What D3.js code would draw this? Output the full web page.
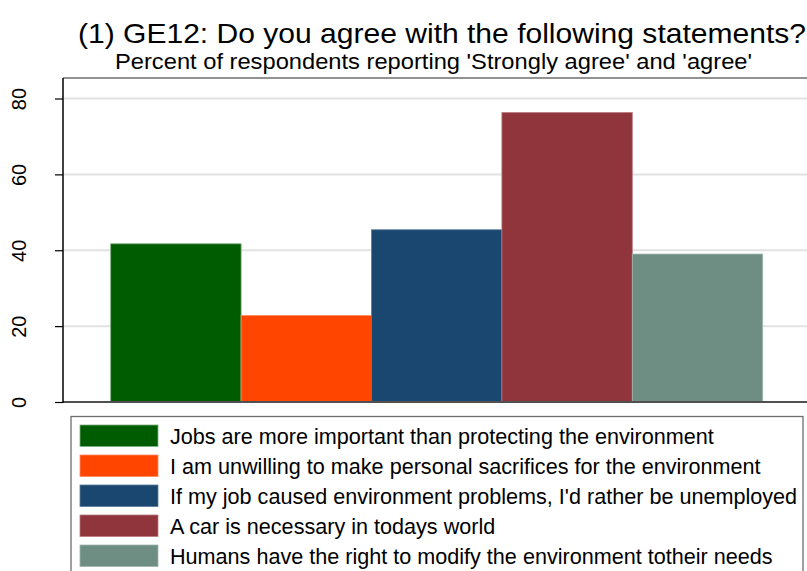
<!DOCTYPE html>
<html>
<head>
<meta charset="utf-8">
<script src="https://cdn.jsdelivr.net/npm/d3@7"></script>
<style>
  html, body { margin: 0; padding: 0; background: #fff; }
  svg { display: block; font-family: Arial, "Liberation Sans", Helvetica, sans-serif; }
</style>
</head>
<body>
<svg id="chart" width="807" height="571"></svg>
<script>
const titleText = "(1) GE12: Do you agree with the following statements?";
const subtitleText = "Percent of respondents reporting 'Strongly agree' and 'agree'";
const categories = [
  "Jobs are more important than protecting the environment",
  "I am unwilling to make personal sacrifices for the environment",
  "If my job caused environment problems, I'd rather be unemployed",
  "A car is necessary in todays world",
  "Humans have the right to modify the environment totheir needs"
];
const values = [41.7, 22.8, 45.4, 76.3, 39.0];
const colors = ["#005c00", "#ff4500", "#1a476f", "#90353b", "#6e8e84"];
const strokeColors = ["#7fae7f", "#ff8a60", "#5d7d9a", "#b87a7e", "#9fb5ae"];
const yTicks = [0, 20, 40, 60, 80];

const svg = d3.select("#chart");

// layout
const plotLeft = 63, plotRight = 807, plotTop = 78, plotBottom = 402;

const x = d3.scaleBand().domain(categories).range([110.7, 762.7]).paddingInner(0).paddingOuter(0);
const y = d3.scaleLinear().domain([0, 80]).range([plotBottom, 98.5]);

// titles
svg.append("text").attr("x", 78).attr("y", 43)
  .attr("font-size", 27.5).attr("fill", "#000")
  .attr("textLength", 728).attr("lengthAdjust", "spacingAndGlyphs")
  .text(titleText);
svg.append("text").attr("x", 115).attr("y", 68.5)
  .attr("font-size", 21.5).attr("fill", "#000")
  .attr("textLength", 637).attr("lengthAdjust", "spacingAndGlyphs")
  .text(subtitleText);

// top border of plot region
svg.append("line").attr("x1", plotLeft).attr("x2", plotRight)
  .attr("y1", plotTop).attr("y2", plotTop)
  .attr("stroke", "#6e6e6e").attr("stroke-width", 1.5);

// gridlines
svg.append("g").selectAll("line").data(yTicks.filter(d => d > 0)).join("line")
  .attr("x1", plotLeft).attr("x2", plotRight)
  .attr("y1", d => y(d)).attr("y2", d => y(d))
  .attr("stroke", "#e2e2e2").attr("stroke-width", 2);

// bars
svg.append("g").selectAll("rect").data(categories).join("rect")
  .attr("x", d => x(d))
  .attr("y", (d, i) => y(values[i]))
  .attr("width", x.bandwidth())
  .attr("height", (d, i) => y(0) - y(values[i]))
  .attr("fill", (d, i) => colors[i])
  .attr("stroke", (d, i) => strokeColors[i])
  .attr("stroke-width", 0.8);

// x axis line (bottom)
svg.append("line").attr("x1", plotLeft).attr("x2", plotRight)
  .attr("y1", plotBottom).attr("y2", plotBottom)
  .attr("stroke", "#505050").attr("stroke-width", 2);

// y axis
const yAxis = d3.axisLeft(y).tickValues(yTicks).tickSize(8).tickSizeOuter(0).tickFormat(d3.format("d"));
const gy = svg.append("g").attr("transform", `translate(${plotLeft},0)`).call(yAxis);
gy.select(".domain").remove();
gy.selectAll(".tick line").attr("stroke", "#000").attr("stroke-width", 1.2);
gy.selectAll(".tick text").remove();
gy.selectAll(".tick").append("text")
  .attr("transform", "translate(-37.5,0) rotate(-90)")
  .attr("text-anchor", "middle")
  .attr("font-size", 20)
  .attr("fill", "#000")
  .attr("font-family", "Arial, 'Liberation Sans', sans-serif")
  .text(d => d);
svg.append("line").attr("x1", plotLeft).attr("x2", plotLeft)
  .attr("y1", plotTop).attr("y2", plotBottom + 1)
  .attr("stroke", "#000").attr("stroke-width", 1.5);

// legend
const legend = svg.append("g");
legend.append("rect").attr("x", 71).attr("y", 416.5).attr("width", 732).attr("height", 170)
  .attr("fill", "#fff").attr("stroke", "#6e6e6e").attr("stroke-width", 1.3);
const rows = legend.selectAll("g.item").data(categories).join("g").attr("class", "item")
  .attr("transform", (d, i) => `translate(0, ${425 + i * 30})`);
rows.append("rect").attr("x", 80).attr("y", 0).attr("width", 78).attr("height", 21.5)
  .attr("fill", (d, i) => colors[i])
  .attr("stroke", (d, i) => strokeColors[i]).attr("stroke-width", 0.8);
rows.append("text").attr("x", 170).attr("y", 18.5)
  .attr("font-size", 21.6).attr("fill", "#000")
  .text(d => d);
</script>
</body>
</html>
